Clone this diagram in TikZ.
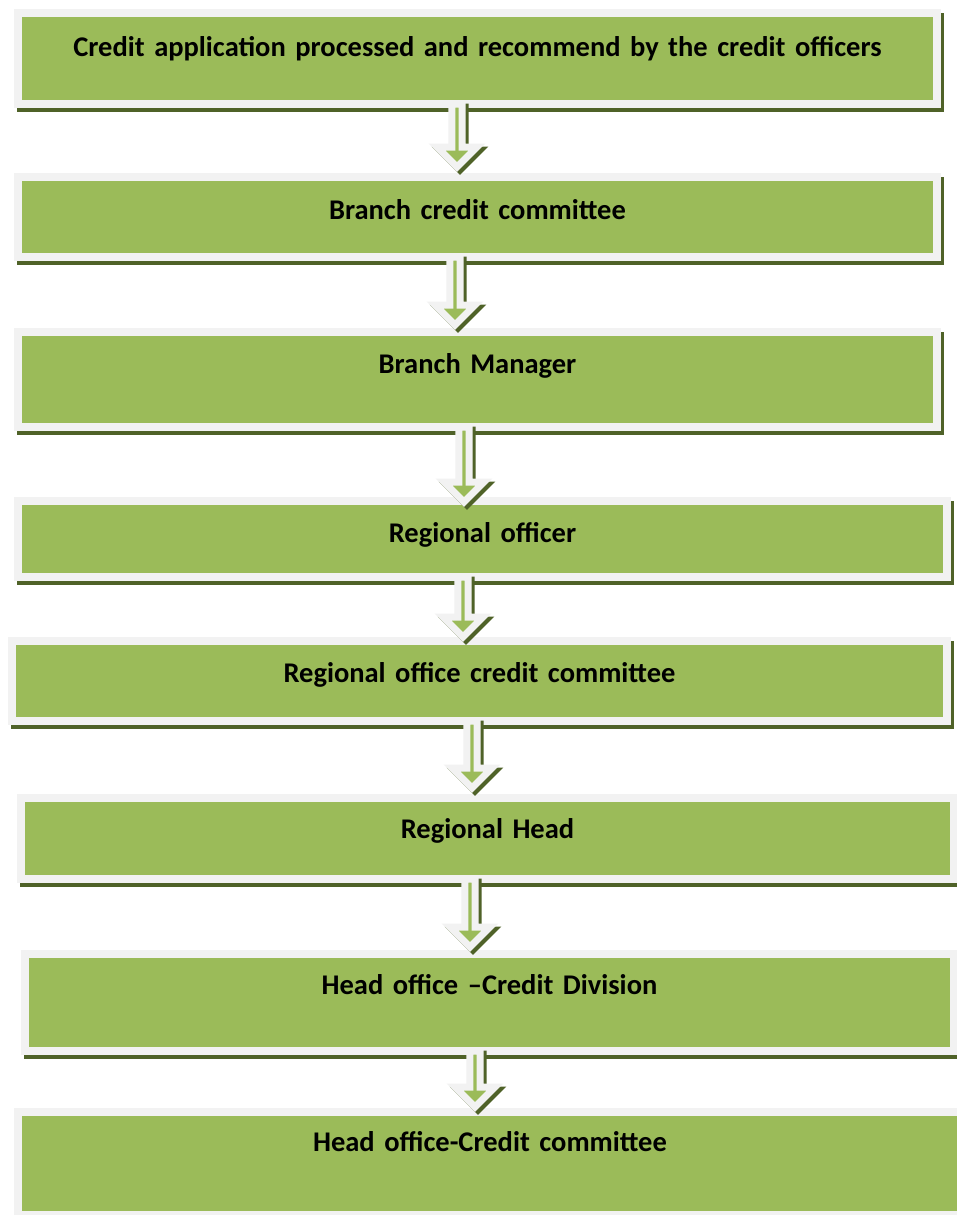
\documentclass[tikz,border=0pt]{standalone}
\usepackage{fontspec}
\setmainfont{Carlito}
\usetikzlibrary{shapes.arrows,shadows,calc}
\definecolor{boxgreen}{HTML}{9BBB59}
\definecolor{edgegrey}{HTML}{F2F2F2}
\definecolor{shadowolive}{HTML}{4F6228}
\tikzset{
  stagebox/.style={rectangle, inner sep=0pt, outer sep=0pt, fill=boxgreen,
    anchor=north west, align=center, text=black,
    font=\fontsize{28.5}{34}\selectfont\bfseries,
    general shadow={draw=shadowolive, fill=shadowolive, line width=16pt,
      shadow xshift=3pt, shadow yshift=-4pt},
    preaction={draw=edgegrey, line width=16pt}},
  flowarrow/.style={single arrow, shape border rotate=270, anchor=tail,
    inner sep=0pt, outer sep=0pt, minimum width=40pt,
    single arrow head extend=10pt, single arrow tip angle=90,
    fill=boxgreen, draw=edgegrey, line width=7pt, line join=miter,
    general shadow={draw=shadowolive, fill=shadowolive, line width=7pt,
      shadow xshift=3pt, shadow yshift=-3pt}}
}
\begin{document}
\begin{tikzpicture}[x=1pt, y=-1pt]
\useasboundingbox (0,0) rectangle (956,1215);
\fill[white] (0,0) rectangle (956,1215);

\node[stagebox, text width=911pt, text height=40pt, text depth=43pt] (b1) at (22,17)
  {Credit application processed and recommend by the credit officers};
\node[stagebox, text width=911pt, text height=38pt, text depth=34pt] (b2) at (22,181)
  {Branch credit committee};
\node[stagebox, text width=911pt, text height=37pt, text depth=50pt] (b3) at (22,336)
  {Branch Manager};
\node[stagebox, text width=921pt, text height=37pt, text depth=31pt] (b4) at (22,505)
  {Regional officer};
\node[stagebox, text width=927pt, text height=37pt, text depth=35pt] (b5) at (16,645)
  {Regional office credit committee};
\node[stagebox, text width=925pt, text height=36pt, text depth=37pt] (b6) at (25,802)
  {Regional Head};
\node[stagebox, text width=921pt, text height=36pt, text depth=53pt] (b7) at (29,958)
  {Head office –Credit Division};
\node[stagebox, text width=936pt, text height=35pt, text depth=60pt] (b8) at (22,1116)
  {Head office-Credit committee};

\node[flowarrow, minimum height=63pt] (a1) at ($(457,0 |- b1.south)+(0,4)$) {};
\node[flowarrow, minimum height=68pt] (a2) at ($(455,0 |- b2.south)+(0,4)$) {};
\node[flowarrow, minimum height=75pt] (a3) at ($(464,0 |- b3.south)+(0,4)$) {};
\node[flowarrow, minimum height=60pt] (a4) at ($(463,0 |- b4.south)+(0,4)$) {};
\node[flowarrow, minimum height=67pt] (a5) at ($(472,0 |- b5.south)+(0,4)$) {};
\node[flowarrow, minimum height=68pt] (a6) at ($(470,0 |- b6.south)+(0,4)$) {};
\node[flowarrow, minimum height=56pt] (a7) at ($(475,0 |- b7.south)+(0,4)$) {};
\end{tikzpicture}
\end{document}
